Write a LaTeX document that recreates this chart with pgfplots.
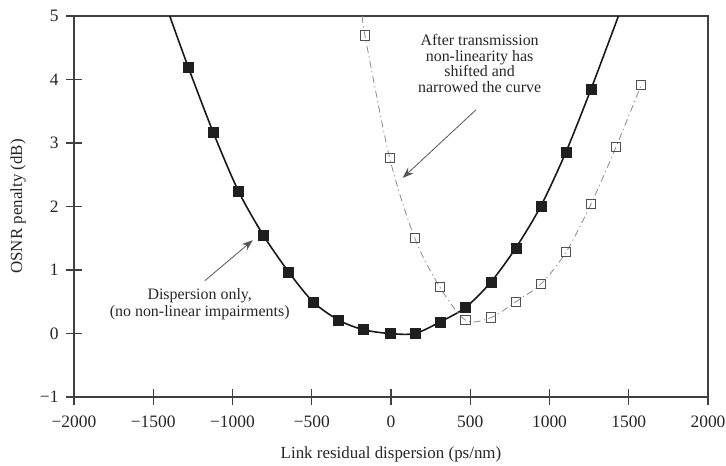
\documentclass[border=0pt]{standalone}
\usepackage{fontspec}
\setmainfont{Liberation Serif}
\usepackage{pgfplots}
\pgfplotsset{compat=1.18}
\usetikzlibrary{arrows.meta}

\definecolor{axisgray}{HTML}{404040}
\definecolor{txt}{HTML}{262626}
\definecolor{nlgray}{HTML}{8A8A8A}
\definecolor{markgray}{HTML}{505050}
\definecolor{arrowgray}{HTML}{555555}

% Penalty with dispersion only (filled squares)
\pgfplotstableread{
x      y
-1280  4.20
-1122  3.17
-962   2.24
-806   1.55
-646   0.97
-492   0.50
-330   0.21
-174   0.06
-8     0.00
150    0.00
308    0.18
470    0.41
630    0.81
788    1.35
946    2.01
1104   2.86
1262   3.85
}\dispersiononly

% Penalty after transmission with non-linearity (open squares)
\pgfplotstableread{
x      y
-164   4.69
-8     2.76
150    1.50
308    0.73
470    0.21
630    0.25
788    0.50
946    0.78
1104   1.28
1262   2.04
1420   2.94
1578   3.91
}\nonlinear

\begin{document}
\begin{tikzpicture}
\path[use as bounding box] (0,0) rectangle (726bp,466bp);
\begin{axis}[
  at={(74bp,69bp)}, anchor=south west,
  scale only axis, width=634bp, height=381bp,
  xmin=-2000, xmax=2000, ymin=-1, ymax=5,
  xtick={-2000,-1500,...,2000},
  ytick={-1,0,...,5},
  xticklabels={−2000,−1500,−1000,−500,0,500,1000,1500,2000},
  yticklabels={−1,0,1,2,3,4,5},
  xtick pos=bottom, ytick pos=left,
  tick align=center,
  major tick length=16bp,
  axis line style={axisgray, line width=1.3pt},
  every tick/.style={axisgray, line width=1.1pt},
  tick label style={font=\fontsize{17.5}{20}\selectfont, text=txt},
  xticklabel style={yshift=-7bp},
  yticklabel style={xshift=-4bp},
  xlabel={Link residual dispersion (ps/nm)},
  ylabel={OSNR penalty (dB)},
  label style={font=\fontsize{17}{20}\selectfont, text=txt},
  xlabel style={at={(axis description cs:0.5,-0.152)}, anchor=center},
  ylabel style={at={(axis description cs:-0.0883,0.5)}, anchor=center},
  clip=true,
]
% dispersion-only curve, extended to the top edge
\addplot[black!90, line width=1.6pt, smooth, tension=0.5] coordinates {
  (-1396,5) (-1280,4.20) (-1122,3.17) (-962,2.24) (-806,1.55) (-646,0.97)
  (-492,0.50) (-330,0.21) (-174,0.06) (-8,0.00) (150,0.00) (308,0.18)
  (470,0.41) (630,0.81) (788,1.35) (946,2.01) (1104,2.86) (1262,3.85) (1435,5)
};
% non-linear curve, dash-dot
\addplot[nlgray, line width=0.8pt, smooth, tension=0.5,
  dash pattern=on 7bp off 3.5bp on 1.2bp off 3.5bp] coordinates {
  (-178,5) (-164,4.69) (-8,2.76) (150,1.50) (308,0.73) (470,0.21) (630,0.25)
  (788,0.50) (946,0.78) (1104,1.28) (1262,2.04) (1420,2.94) (1578,3.91)
};
\addplot[only marks, mark=square*, mark size=5bp,
  mark options={fill=black!88, draw=black!88}] table {\dispersiononly};
\addplot[only marks, mark=square, mark size=4.7bp,
  mark options={draw=markgray, line width=1pt, fill=none}] table {\nonlinear};

% annotations
\node[align=center, text=txt, font=\fontsize{16}{15.7}\selectfont]
  at (axis cs:559,4.25) {After transmission\\non-linearity has\\shifted and\\narrowed the curve};
\draw[arrowgray, line width=0.8pt, -{Stealth[length=11bp, width=8bp]}]
  (axis cs:535,3.52) -- (axis cs:74,2.45);
\node[align=center, text=txt, font=\fontsize{16}{17.5}\selectfont]
  at (axis cs:-1207,0.465) {Dispersion only,\\(no non-linear impairments)};
\draw[arrowgray, line width=0.8pt, -{Stealth[length=11bp, width=8bp]}]
  (axis cs:-1175,0.83) -- (axis cs:-872,1.47);
\end{axis}
\end{tikzpicture}
\end{document}
